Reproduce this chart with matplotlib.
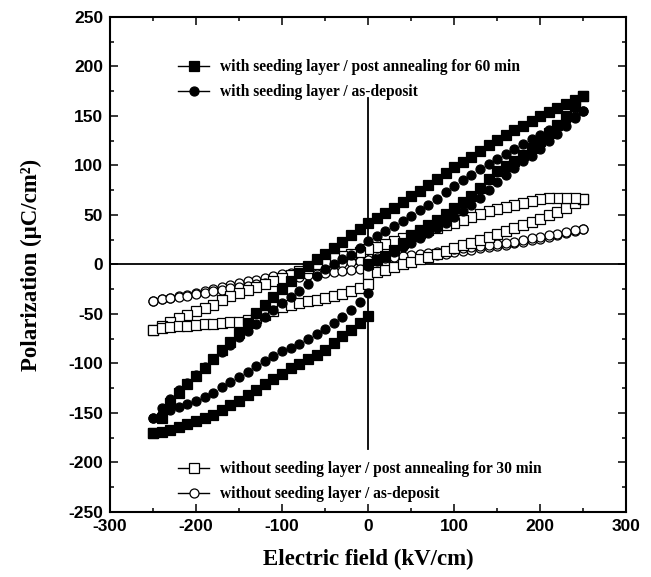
import matplotlib
matplotlib.use("Agg")
import matplotlib.pyplot as plt
from matplotlib.lines import Line2D
from matplotlib.ticker import MultipleLocator

plt.rcParams["axes.unicode_minus"] = False

# electric field sampling (kV/cm): 0 -> 250, 250 -> -250, -250 -> 0
E_RISE = [0, 10, 20, 30, 40, 50, 60, 70, 80, 90, 100, 110, 120, 130, 140, 150,
          160, 170, 180, 190, 200, 210, 220, 230, 240, 250]
E_FALL = [250, 240, 230, 220, 210, 200, 190, 180, 170, 160, 150, 140, 130, 120,
          110, 100, 90, 80, 70, 60, 50, 40, 30, 20, 10, 0, -10, -20, -30, -40,
          -50, -60, -70, -80, -90, -100, -110, -120, -130, -140, -150, -160,
          -170, -180, -190, -200, -210, -220, -230, -240, -250]
E_RETURN = [-250, -240, -230, -220, -210, -200, -190, -180, -170, -160, -150,
            -140, -130, -120, -110, -100, -90, -80, -70, -60, -50, -40, -30,
            -20, -10, 0]

# with seeding layer / post annealing 60 min (filled squares)
seed60_rise = [0, 4, 9, 15, 22, 29, 35, 40, 45, 51, 57, 63, 69, 77, 86, 94, 99,
               104, 111, 118, 125, 133, 141, 150, 160, 170]
seed60_fall = [170, 166, 162, 158, 154, 150, 145, 140, 136, 131, 126, 121, 115,
               109, 103, 98, 92, 86, 80, 74, 69, 63, 57, 52, 47, 42,
               36, 30, 23, 17, 11, 5, -2, -9, -17, -25, -33, -41, -49, -59, -69,
               -78, -86, -96, -105, -113, -121, -130, -140, -155, -170]
seed60_return = [-170, -169, -167, -164, -161, -158, -155, -152, -147, -142,
                 -138, -132, -127, -121, -116, -111, -105, -101, -96, -91, -86,
                 -79, -72, -66, -59, -52]

# with seeding layer / as-deposit (filled circles)
seed_ad_rise = [-2, 3, 8, 13, 18, 22, 27, 32, 37, 42, 48, 54, 60, 67, 75, 83, 90,
                97, 104, 110, 117, 125, 132, 140, 148, 155]
seed_ad_fall = [155, 150, 146, 141, 136, 131, 127, 122, 117, 112, 106, 101, 96,
                90, 85, 79, 73, 66, 60, 55, 49, 44, 39, 34, 29, 24,
                17, 10, 5, 0, -5, -12, -20, -27, -33, -39, -46, -53, -60, -67,
                -73, -81, -88, -96, -104, -112, -120, -127, -136, -145, -155]
seed_ad_return = [-155, -151, -147, -144, -141, -138, -134, -130, -124, -119,
                  -114, -109, -103, -98, -92, -87, -84, -80, -75, -70, -65, -59,
                  -53, -46, -38, -29]

# without seeding layer / post annealing 30 min (open squares)
noseed30_rise = [-10, -8, -6, -3, 0, 2, 5, 8, 11, 14, 17, 20, 22, 25, 28, 31, 34,
                 37, 40, 43, 46, 50, 53, 57, 62, 66]
noseed30_fall = [66, 67, 67, 67, 67, 66, 64, 62, 60, 58, 56, 54, 51, 48, 45, 42,
                 40, 37, 35, 32, 30, 27, 24, 21, 18, 16,
                 13, 11, 9, 6, 3, 0, -4, -7, -11, -14, -17, -20, -23, -26, -29,
                 -32, -36, -41, -44, -47, -51, -54, -58, -62, -66]
noseed30_return = [-66, -64, -63, -62, -62, -61, -60, -60, -59, -58, -58, -56,
                   -54, -51, -47, -43, -41, -39, -37, -36, -34, -32, -30, -27,
                   -24, -20]

# without seeding layer / as-deposit (open circles)
noseed_ad_rise = [-5, -3, -1, 1, 3, 5, 7, 8, 10, 11, 13, 14, 15, 17, 18, 19, 20,
                  22, 23, 25, 26, 28, 30, 32, 34, 36]
noseed_ad_fall = [36, 35, 33, 31, 30, 28, 27, 25, 23, 22, 21, 20, 19, 18, 17, 16,
                  14, 13, 12, 11, 10, 9, 8, 7, 6, 4,
                  3, 2, 1, 0, -2, -4, -5, -7, -9, -10, -12, -14, -16, -17, -19,
                  -21, -23, -25, -27, -29, -31, -32, -34, -35, -37]
noseed_ad_return = [-37, -35, -34, -33, -32, -30, -29, -27, -26, -24, -23, -22,
                    -20, -19, -17, -16, -14, -13, -11, -10, -9, -8, -7, -6, -5, -5]

labels = ["with seeding layer / post annealing for 60 min",
          "with seeding layer / as-deposit",
          "without seeding layer / post annealing for 30 min",
          "without seeding layer / as-deposit"]

serif = ["Liberation Serif", "DejaVu Serif"]
sans = ["Liberation Sans", "DejaVu Sans"]

fig = plt.figure(figsize=(6.51, 5.77), dpi=100)
ax = fig.add_axes([0.169, 0.1127, 0.793, 0.858])

E_all = E_RISE + E_FALL + E_RETURN
series = [
    (noseed_ad_rise + noseed_ad_fall + noseed_ad_return, "o", "white"),
    (noseed30_rise + noseed30_fall + noseed30_return, "s", "white"),
    (seed_ad_rise + seed_ad_fall + seed_ad_return, "o", "black"),
    (seed60_rise + seed60_fall + seed60_return, "s", "black"),
]
for p, m, fc in series:
    ax.plot(E_all, p, linestyle="none", marker=m, markersize=6.5,
            markerfacecolor=fc, markeredgecolor="black", markeredgewidth=0.9)

# origin cross lines
ax.axhline(0, color="black", lw=1.3, zorder=0)
ax.plot([0, 0], [-186, 168], color="black", lw=1.3, zorder=0)

ax.set_xlim(-300, 300)
ax.set_ylim(-250, 250)
ax.xaxis.set_major_locator(MultipleLocator(100))
ax.xaxis.set_minor_locator(MultipleLocator(50))
ax.yaxis.set_major_locator(MultipleLocator(50))
ax.yaxis.set_minor_locator(MultipleLocator(25))
ax.tick_params(which="both", direction="in", top=True, right=True, width=1.1)
ax.tick_params(which="major", length=6, pad=5)
ax.tick_params(which="minor", length=3)
for s in ax.spines.values():
    s.set_linewidth(1.5)
for t in ax.get_xticklabels() + ax.get_yticklabels():
    t.set_family(sans)
    t.set_fontweight("bold")
    t.set_fontsize(12.5)

ax.set_xlabel("Electric field (kV/cm)", family=serif, fontweight="bold",
              fontsize=16.5, labelpad=11)
ax.set_ylabel("Polarization (\u03bcC/cm\u00b2)", family=serif, fontweight="bold",
              fontsize=16.5, labelpad=19)

def handle(m, fc):
    return Line2D([], [], color="black", lw=1.0, marker=m, markersize=6.5,
                  markerfacecolor=fc, markeredgecolor="black",
                  markeredgewidth=0.9)

leg_font = {"family": serif, "weight": "bold", "size": 11.2}
leg_kw = dict(loc="upper left", frameon=False, prop=leg_font,
              handlelength=2.0, handletextpad=0.7, labelspacing=0.55,
              borderpad=0, borderaxespad=0)
leg1 = ax.legend([handle("s", "black"), handle("o", "black")], labels[:2],
                 bbox_to_anchor=(0.132, 0.914), **leg_kw)
ax.add_artist(leg1)
ax.legend([handle("s", "white"), handle("o", "white")], labels[2:],
          bbox_to_anchor=(0.132, 0.102), **leg_kw)

fig.savefig("out.png", dpi=100)
